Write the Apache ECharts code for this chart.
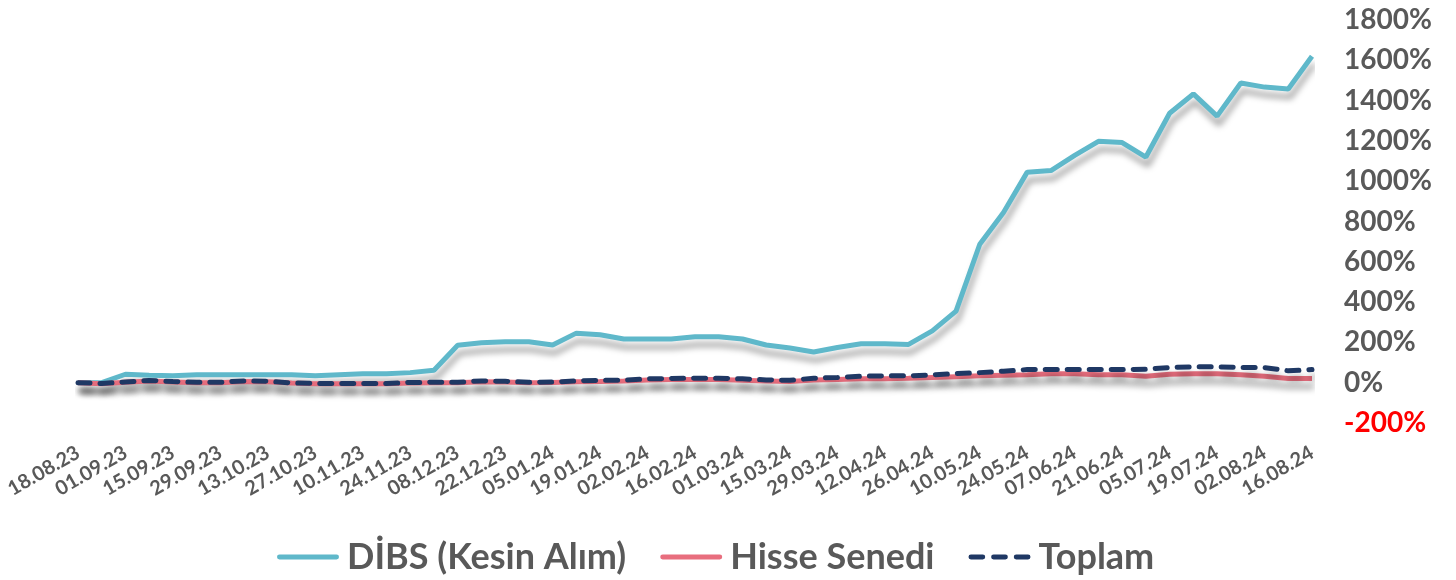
<!DOCTYPE html>
<html>
<head>
<meta charset="utf-8">
<script src="https://cdn.jsdelivr.net/npm/echarts@6/dist/echarts.min.js"></script>
<style>
  html, body { margin: 0; padding: 0; background: #fff; }
  #chart { width: 1456px; height: 580px; }
</style>
</head>
<body>
<div id="chart"></div>
<script>
// weekly dates
const dates = [
  '18.08.23', '25.08.23', '01.09.23', '08.09.23', '15.09.23', '22.09.23', '29.09.23', '06.10.23',
  '13.10.23', '20.10.23', '27.10.23', '03.11.23', '10.11.23', '17.11.23', '24.11.23', '01.12.23',
  '08.12.23', '15.12.23', '22.12.23', '29.12.23', '05.01.24', '12.01.24', '19.01.24', '26.01.24',
  '02.02.24', '09.02.24', '16.02.24', '23.02.24', '01.03.24', '08.03.24', '15.03.24', '22.03.24',
  '29.03.24', '05.04.24', '12.04.24', '19.04.24', '26.04.24', '03.05.24', '10.05.24', '17.05.24',
  '24.05.24', '31.05.24', '07.06.24', '14.06.24', '21.06.24', '28.06.24', '05.07.24', '12.07.24',
  '19.07.24', '26.07.24', '02.08.24', '09.08.24', '16.08.24'
];

// values in %
const dibs = [
  0, 0, 42, 37, 34, 39, 40, 40, 40, 40, 34, 39, 44, 45, 50, 62,
  186, 198, 203, 203, 187, 246, 238, 217, 217, 217, 228, 228, 217, 187, 172, 152,
  175, 193, 193, 190, 257, 355, 687, 845, 1045, 1053, 1128, 1198, 1192, 1120, 1337, 1433,
  1323, 1487, 1467, 1458, 1620
];
const hisse = [
  0, -5, 2, 8, 4, 0, 0, 6, 5, -2, -5, -5, -5, -5, -1, 0,
  0, 5, 4, 0, 1, 5, 6, 8, 13, 16, 16, 16, 12, 9, 6, 13,
  16, 19, 20, 22, 26, 30, 34, 37, 40, 45, 45, 39, 40, 32, 42, 45,
  45, 39, 32, 21, 21
];
const toplam = [
  0, -4, 4, 11, 6, 2, 2, 9, 7, -1, -4, -4, -4, -4, 1, 2,
  2, 9, 7, 2, 3, 9, 12, 12, 19, 21, 22, 22, 19, 14, 12, 22,
  26, 32, 34, 34, 39, 45, 50, 57, 65, 65, 65, 65, 65, 67, 75, 79,
  79, 75, 75, 59, 65
];

const font = 'Lato, "Open Sans", sans-serif';
const shadow = { shadowColor: 'rgba(0,0,0,0.35)', shadowBlur: 6, shadowOffsetX: 2, shadowOffsetY: 8 };
const solidIcon = 'path://M2,0h58a2,2 0 0 1 0,5h-58a2,2 0 0 1 0,-5z';
const dashIcon = 'path://M2,0h12a2,2 0 0 1 0,5h-12a2,2 0 0 1 0,-5z M25,0h12a2,2 0 0 1 0,5h-12a2,2 0 0 1 0,-5z M48,0h12a2,2 0 0 1 0,5h-12a2,2 0 0 1 0,-5z';

const chart = echarts.init(document.getElementById('chart'));
chart.setOption({
  animation: false,
  textStyle: { fontFamily: font },
  grid: { left: 78, right: 144, top: 20, bottom: 157 },
  legend: {
    bottom: 0,
    left: 272,
    itemWidth: 62,
    itemHeight: 5,
    itemGap: 34,
    textStyle: { fontFamily: font, fontWeight: 'bold', fontSize: 36, color: '#595959', padding: [0, 0, 0, 3] },
    data: [
      { name: 'DİBS (Kesin Alım)', icon: solidIcon },
      { name: 'Hisse Senedi', icon: solidIcon },
      { name: 'Toplam', icon: dashIcon }
    ]
  },
  xAxis: {
    type: 'category',
    data: dates,
    boundaryGap: false,
    axisLine: { show: false },
    axisTick: { show: false },
    axisLabel: {
      interval: 1,
      rotate: 30,
      margin: 28,
      fontFamily: font,
      fontWeight: 'bold',
      fontSize: 20,
      color: '#595959'
    }
  },
  yAxis: {
    type: 'value',
    position: 'right',
    min: -200,
    max: 1800,
    interval: 200,
    splitLine: { show: false },
    axisLine: { show: false },
    axisTick: { show: false },
    axisLabel: {
      margin: 32,
      align: 'left',
      fontFamily: font,
      fontWeight: 'bold',
      fontSize: 28,
      color: '#595959',
      formatter: function (v) {
        return v < 0 ? '{neg|' + v + '%}' : v + '%';
      },
      rich: {
        neg: { color: '#ff0000', fontFamily: font, fontWeight: 'bold', fontSize: 28 }
      }
    }
  },
  series: [
    {
      name: 'DİBS (Kesin Alım)',
      type: 'line',
      data: dibs,
      symbol: 'none',
      color: '#5fb8ca',
      lineStyle: Object.assign({ width: 5, color: '#5fb8ca' }, shadow)
    },
    {
      name: 'Hisse Senedi',
      type: 'line',
      data: hisse,
      symbol: 'none',
      color: '#e86e7e',
      lineStyle: Object.assign({ width: 5, color: '#e86e7e' }, shadow)
    },
    {
      name: 'Toplam',
      type: 'line',
      data: toplam,
      symbol: 'none',
      color: '#1f3864',
      lineStyle: Object.assign({ width: 5, color: '#1f3864', type: [12, 10], cap: 'round' }, shadow)
    }
  ]
});
</script>
</body>
</html>
